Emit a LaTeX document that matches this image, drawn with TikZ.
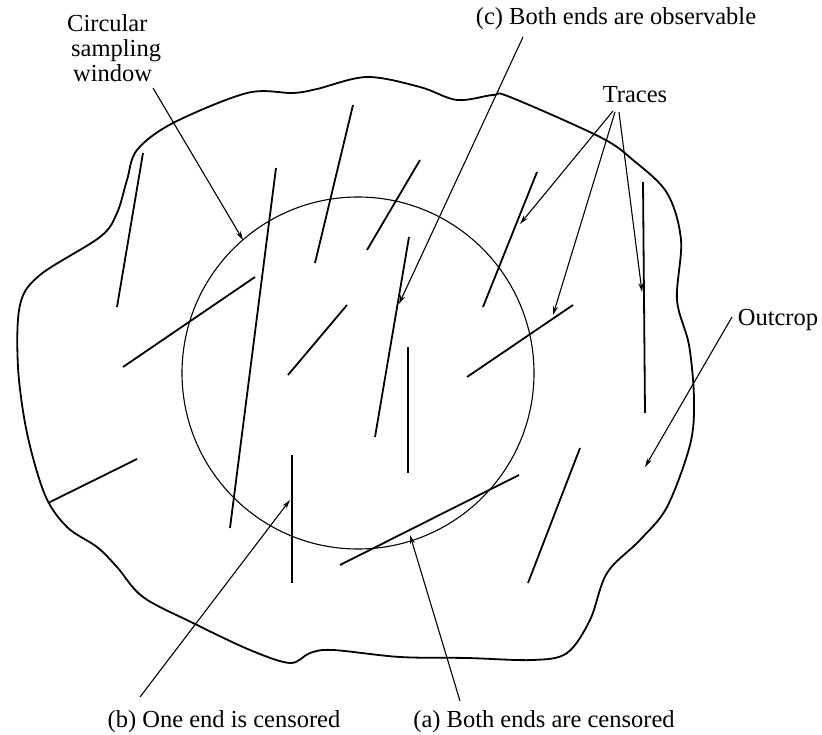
\documentclass[tikz,border=0pt]{standalone}
\usepackage{fontspec}
\setmainfont{Liberation Serif}
\usetikzlibrary{arrows.meta}
\begin{document}
\begin{tikzpicture}[x=1pt,y=-1pt,
  lbl/.style={font=\fontsize{24.5}{25}\selectfont, inner sep=0pt},
  trace/.style={line width=1.8pt},
  outline/.style={line width=1.8pt},
  window/.style={line width=1.1pt},
  pointer/.style={line width=1.1pt, -{Stealth[length=9pt,width=5pt]}}]
\useasboundingbox (0,0) rectangle (822,735);
% outcrop
\draw[outline] plot[smooth cycle, tension=0.55] coordinates {
 (137,150) (173,123) (247,93) (293,93) (317,89) (367,77) (420,87) (457,100)
 (493,95) (510,97) (600,137) (633,160) (667,193) (681,240) (677,300)
 (689,345) (694,400) (690,445) (667,507) (640,540) (607,573) (590,620)
 (567,653) (533,660) (467,658) (400,657) (333,650) (310,653) (290,663)
 (250,650) (193,623) (143,597) (117,567) (97,547) (67,527) (45,495)
 (27,433) (18,367) (20,305) (40,275) (100,237) (117,213) (127,180)};
% window
\draw[window] (358,373) circle[radius=176];
% traces
\draw[trace] (143,153) -- (117,307);
\draw[trace] (353,105) -- (315,263);
\draw[trace] (276,168) -- (230,528);
\draw[trace] (255,277) -- (123,367);
\draw[trace] (420,160) -- (367,250);
\draw[trace] (409,237) -- (375,437);
\draw[trace] (347,305) -- (288,375);
\draw[trace] (408,347) -- (408,473);
\draw[trace] (292,455) -- (292,583);
\draw[trace] (137,459) -- (48,503);
\draw[trace] (537,172) -- (483,307);
\draw[trace] (573,305) -- (467,377);
\draw[trace] (643,182) -- (645,413);
\draw[trace] (580,448) -- (528,583);
\draw[trace] (519,475) -- (340,565);
% labels
\node[lbl, align=left, anchor=north west] (csw) at (67,14) {Circular\\\hspace{4pt}sampling\\\hspace{6pt}window};
\node[lbl] (lc) at (616,19) {(c) Both ends are observable};
\node[lbl] (ltr) at (635,95) {Traces};
\node[lbl] (lout) at (778,320) {Outcrop};
\node[lbl] (lb) at (224,722) {(b) One end is censored};
\node[lbl] (la) at (544,722) {(a) Both ends are censored};
% pointer coordinates
\coordinate (cswS) at (153,88);  \coordinate (cswE) at (243,240);
\coordinate (cS) at (523,37);    \coordinate (cE) at (399,304);
\coordinate (trS1) at (613,111); \coordinate (trE1) at (520,224);
\coordinate (trS2) at (615,112); \coordinate (trE2) at (553,315);
\coordinate (trS3) at (619,112); \coordinate (trE3) at (642,292);
\coordinate (oS) at (732,317);   \coordinate (oE) at (645,467);
\coordinate (aS) at (460,701);   \coordinate (aE) at (410,535);
\coordinate (bS) at (140,697);   \coordinate (bE) at (290,500);
% pointers
\draw[pointer] (cswS) -- (cswE);
\draw[pointer] (cS) -- (cE);
\draw[pointer] (trS1) -- (trE1);
\draw[pointer] (trS2) -- (trE2);
\draw[pointer] (trS3) -- (trE3);
\draw[pointer] (oS) -- (oE);
\draw[pointer] (aS) -- (aE);
\draw[pointer] (bS) -- (bE);
\end{tikzpicture}
\end{document}
